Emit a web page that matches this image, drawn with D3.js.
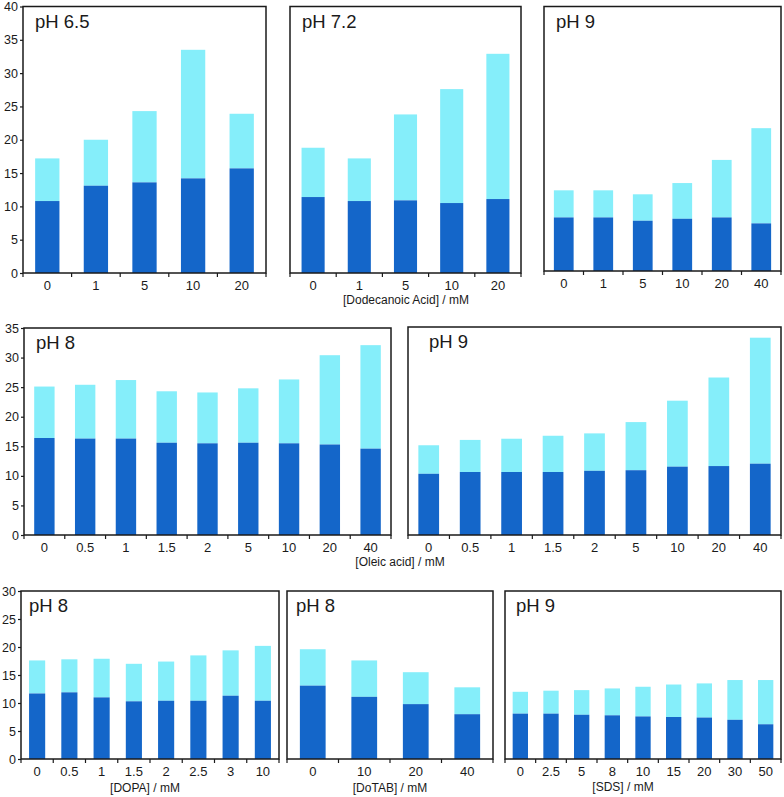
<!DOCTYPE html>
<html>
<head>
<meta charset="utf-8">
<script src="https://cdn.jsdelivr.net/npm/d3@7"></script>
<style>
  html, body { margin: 0; padding: 0; background: #fff; }
  svg { display: block; font-family: "Liberation Sans", Arial, sans-serif; }
</style>
</head>
<body>
<svg id="chart" width="784" height="797"></svg>
<script>
// ---------- DATA ----------
const dodecCats = ["0", "1", "5", "10", "20"];
const dodec65Lower = [10.8, 13.1, 13.6, 14.2, 15.7];
const dodec65Total = [17.2, 20.0, 24.3, 33.5, 23.9];
const dodec72Lower = [11.4, 10.8, 10.9, 10.5, 11.1];
const dodec72Total = [18.8, 17.2, 23.8, 27.6, 32.9];
const dodec9Cats = ["0", "1", "5", "10", "20", "40"];
const dodec9Lower = [8.1, 8.1, 7.6, 7.9, 8.1, 7.2];
const dodec9Total = [12.2, 12.2, 11.6, 13.3, 16.8, 21.6];

const oleicCats = ["0", "0.5", "1", "1.5", "2", "5", "10", "20", "40"];
const oleic8Lower = [16.4, 16.3, 16.3, 15.6, 15.5, 15.6, 15.5, 15.3, 14.6];
const oleic8Total = [25.1, 25.4, 26.2, 24.3, 24.1, 24.8, 26.3, 30.4, 32.1];
const oleic9Lower = [10.3, 10.6, 10.6, 10.6, 10.8, 10.9, 11.5, 11.6, 12.0];
const oleic9Total = [15.1, 16.0, 16.2, 16.7, 17.1, 19.0, 22.6, 26.5, 33.2];

const dopaCats = ["0", "0.5", "1", "1.5", "2", "2.5", "3", "10"];
const dopa8Lower = [11.7, 11.9, 11.0, 10.3, 10.4, 10.4, 11.3, 10.4];
const dopa8Total = [17.6, 17.8, 17.9, 17.0, 17.4, 18.5, 19.4, 20.2];

const dotabCats = ["0", "10", "20", "40"];
const dotab8Lower = [13.1, 11.1, 9.8, 8.0];
const dotab8Total = [19.6, 17.6, 15.5, 12.8];

const sdsCats = ["0", "2.5", "5", "8", "10", "15", "20", "30", "50"];
const sds9Lower = [8.1, 8.1, 7.9, 7.8, 7.6, 7.5, 7.4, 7.0, 6.2];
const sds9Total = [12.0, 12.2, 12.3, 12.6, 12.9, 13.3, 13.5, 14.1, 14.1];

const yTicks40 = [0, 5, 10, 15, 20, 25, 30, 35, 40];
const yTicks35 = [0, 5, 10, 15, 20, 25, 30, 35];
const yTicks30 = [0, 5, 10, 15, 20, 25, 30];

const axisLabels = ["[Dodecanoic Acid] / mM", "[Oleic acid] / mM", "[DOPA] / mM", "[DoTAB] / mM", "[SDS] / mM"];

// ---------- LAYOUT ----------
const panels = [
  { title: "pH 6.5", cats: dodecCats, lower: dodec65Lower, total: dodec65Total, yTicks: yTicks40, box: [23, 6.5, 266, 273], yAxis: true },
  { title: "pH 7.2", cats: dodecCats, lower: dodec72Lower, total: dodec72Total, yTicks: yTicks40, box: [290, 6.5, 521, 273], yAxis: false },
  { title: "pH 9", cats: dodec9Cats, lower: dodec9Lower, total: dodec9Total, yTicks: yTicks40, box: [544, 6.5, 781, 271], yAxis: false },
  { title: "pH 8", cats: oleicCats, lower: oleic8Lower, total: oleic8Total, yTicks: yTicks35, box: [24, 328, 391, 535], yAxis: true },
  { title: "pH 9", cats: oleicCats, lower: oleic9Lower, total: oleic9Total, yTicks: yTicks35, box: [408, 327, 781, 535], yAxis: false, titleDx: 21 },
  { title: "pH 8", cats: dopaCats, lower: dopa8Lower, total: dopa8Total, yTicks: yTicks30, box: [21, 591, 279, 759], yAxis: true, titleDx: 8 },
  { title: "pH 8", cats: dotabCats, lower: dotab8Lower, total: dotab8Total, yTicks: yTicks30, box: [287, 591, 493, 759], yAxis: false, titleDx: 9 },
  { title: "pH 9", cats: sdsCats, lower: sds9Lower, total: sds9Total, yTicks: yTicks30, box: [505, 591, 781, 759], yAxis: false, titleDx: 11 }
];
const labelPos = [[406, 304], [400, 566], [145, 792], [390, 792], [623, 791]];

const DARK = "#1466c9";
const LIGHT = "#85eefa";
const INK = "#1a1a1a";

const svg = d3.select("#chart");

panels.forEach(p => {
  const [x0, y0, x1, y1] = p.box;
  const yMax = p.yTicks[p.yTicks.length - 1];
  const x = d3.scaleBand().domain(p.cats).range([x0, x1]).paddingInner(0.5).paddingOuter(0.25);
  const y = d3.scaleLinear().domain([0, yMax]).range([y1, y0]);
  const g = svg.append("g");

  const rows = p.cats.map((c, i) => ({ c, lower: p.lower[i], total: p.total[i] }));

  g.selectAll("rect.light").data(rows).join("rect")
    .attr("class", "light")
    .attr("x", d => x(d.c)).attr("width", x.bandwidth())
    .attr("y", d => y(d.total)).attr("height", d => y(d.lower) - y(d.total))
    .attr("fill", LIGHT);
  g.selectAll("rect.dark").data(rows).join("rect")
    .attr("class", "dark")
    .attr("x", d => x(d.c)).attr("width", x.bandwidth())
    .attr("y", d => y(d.lower)).attr("height", d => y(0) - y(d.lower))
    .attr("fill", DARK);

  g.append("rect")
    .attr("x", x0).attr("y", y0).attr("width", x1 - x0).attr("height", y1 - y0)
    .attr("fill", "none").attr("stroke", INK).attr("stroke-width", 1.5);

  const xa = g.append("g").attr("transform", `translate(0,${y1})`)
    .call(d3.axisBottom(x).tickSize(0).tickPadding(0));
  xa.select(".domain").remove();
  xa.selectAll("text").attr("dy", null).attr("y", 16.5).attr("font-size", 13)
    .attr("font-family", "Liberation Sans, Arial, sans-serif").attr("fill", INK);

  const step = x.step();
  const bounds = d3.range(p.cats.length + 1).map(i => x(p.cats[0]) - step * 0.25 + i * step);
  g.selectAll("line.xt").data(bounds).join("line")
    .attr("class", "xt")
    .attr("x1", d => d).attr("x2", d => d)
    .attr("y1", y1).attr("y2", y1 + 4)
    .attr("stroke", INK).attr("stroke-width", 1.2);

  if (p.yAxis) {
    const ya = g.append("g").attr("transform", `translate(${x0},0)`)
      .call(d3.axisLeft(y).tickValues(p.yTicks).tickSize(3).tickPadding(2));
    ya.select(".domain").remove();
    ya.selectAll("line").attr("stroke", INK).attr("stroke-width", 1.2);
    ya.selectAll("text").attr("font-size", 12.5)
      .attr("font-family", "Liberation Sans, Arial, sans-serif").attr("fill", INK);
  }

  g.append("text")
    .attr("x", x0 + (p.titleDx !== undefined ? p.titleDx : 12))
    .attr("y", y0 + 21)
    .attr("font-size", 18.5).attr("fill", INK)
    .text(p.title);
});

svg.selectAll("text.axlab").data(axisLabels).join("text")
  .attr("class", "axlab")
  .attr("x", (d, i) => labelPos[i][0]).attr("y", (d, i) => labelPos[i][1])
  .attr("text-anchor", "middle").attr("font-size", 12).attr("fill", INK)
  .text(d => d);
</script>
</body>
</html>
